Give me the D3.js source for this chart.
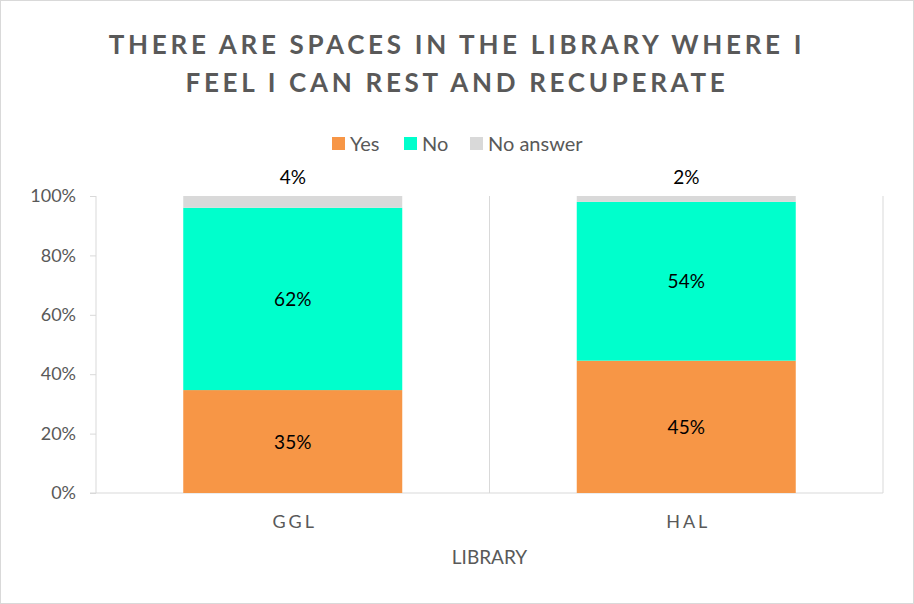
<!DOCTYPE html>
<html>
<head>
<meta charset="utf-8">
<script src="https://cdn.jsdelivr.net/npm/d3@7"></script>
<style>
  body { margin: 0; background: #fff; }
  text { font-family: Lato, "Open Sans", sans-serif; }
</style>
</head>
<body>
<svg width="914" height="604"></svg>
<script>
const categories = ['GGL', 'HAL'];
const seriesNames = ['Yes', 'No', 'No answer'];
const yesValues = [35, 45];
const noValues = [62, 54];
const noAnswerValues = [4, 2];
const yTicks = [0, 20, 40, 60, 80, 100];
const colors = ['#F79646', '#00FFCC', '#D9D9D9'];

const svg = d3.select('svg');
const width = +svg.attr('width');
const height = +svg.attr('height');

const margin = {top: 196, right: 31, bottom: 111, left: 96};
const innerWidth = width - margin.left - margin.right;
const innerHeight = height - margin.top - margin.bottom;

// outer frame
svg.append('rect')
  .attr('x', 0.5).attr('y', 0.5)
  .attr('width', width - 1).attr('height', height - 1)
  .attr('fill', '#fff').attr('stroke', '#d9d9d9');

// rows normalised to 100%
const rows = categories.map((c, i) => {
  const vals = [yesValues[i], noValues[i], noAnswerValues[i]];
  const total = d3.sum(vals);
  const row = {category: c, total};
  seriesNames.forEach((s, j) => { row[s] = vals[j]; row[s + '_pct'] = vals[j] / total * 100; });
  return row;
});

const stack = d3.stack().keys(seriesNames.map(s => s + '_pct'));
const stacked = stack(rows);

const xScale = d3.scaleBand()
  .domain(categories)
  .range([0, innerWidth])
  .paddingInner(0)
  .paddingOuter(0);

const barWidth = 219;

const yScale = d3.scaleLinear()
  .domain([0, 100])
  .range([innerHeight, 0]);

const g = svg.append('g')
  .attr('transform', `translate(${margin.left}, ${margin.top})`);

// category separators
const seps = [0].concat(categories.map(c => xScale(c) + xScale.bandwidth()));
g.selectAll('.sep').data(seps).enter().append('line')
  .attr('x1', d => d).attr('x2', d => d)
  .attr('y1', 0).attr('y2', innerHeight)
  .attr('stroke', '#d9d9d9').attr('stroke-width', 1);

// y axis
const yAxis = d3.axisLeft(yScale)
  .tickValues(yTicks)
  .tickFormat(d => d + '%')
  .tickSize(6)
  .tickPadding(14);

const yAxisG = g.append('g').call(yAxis);
yAxisG.select('.domain').remove();
yAxisG.selectAll('line').attr('stroke', '#d9d9d9');
yAxisG.selectAll('text')
  .attr('fill', '#595959')
  .style('font-size', '18px');

// baseline
g.append('line')
  .attr('x1', -6).attr('x2', innerWidth)
  .attr('y1', innerHeight).attr('y2', innerHeight)
  .attr('stroke', '#d9d9d9');

// bars
const layers = g.selectAll('.layer').data(stacked).enter().append('g')
  .attr('fill', (d, i) => colors[i]);

layers.selectAll('rect').data(d => d).enter().append('rect')
  .attr('x', d => xScale(d.data.category) + (xScale.bandwidth() - barWidth) / 2)
  .attr('width', barWidth)
  .attr('y', d => yScale(d[1]))
  .attr('height', d => yScale(d[0]) - yScale(d[1]));

// value labels
stacked.forEach((layer, i) => {
  const key = seriesNames[i];
  g.selectAll('.lbl' + i).data(layer).enter().append('text')
    .attr('x', d => xScale(d.data.category) + xScale.bandwidth() / 2)
    .attr('y', d => i === 2 ? yScale(100) - 12 : (yScale(d[0]) + yScale(d[1])) / 2 + 7)
    .attr('text-anchor', 'middle')
    .attr('fill', '#000')
    .style('font-size', '19px')
    .text(d => d.data[key] + '%');
});

// x labels
g.selectAll('.xlabel').data(categories).enter().append('text')
  .attr('x', d => xScale(d) + xScale.bandwidth() / 2 + 2)
  .attr('y', innerHeight + 35)
  .attr('text-anchor', 'middle')
  .attr('fill', '#595959')
  .style('font-size', '18px')
  .style('letter-spacing', '3px')
  .text(d => d);

g.append('text')
  .attr('x', innerWidth / 2)
  .attr('y', innerHeight + 71)
  .attr('text-anchor', 'middle')
  .attr('fill', '#595959')
  .style('font-size', '19px')
  .text('LIBRARY');

// title
const titleLines = ['THERE ARE SPACES IN THE LIBRARY WHERE I', 'FEEL I CAN REST AND RECUPERATE'];
svg.selectAll('.title').data(titleLines).enter().append('text')
  .attr('x', width / 2)
  .attr('y', (d, i) => 54 + i * 38)
  .attr('text-anchor', 'middle')
  .attr('fill', '#595959')
  .style('font-size', '26px')
  .style('font-weight', 'bold')
  .style('letter-spacing', '3.7px')
  .text(d => d);

// legend
const legendX = [332, 404, 470];
const legend = svg.selectAll('.legend').data(seriesNames).enter().append('g')
  .attr('transform', (d, i) => `translate(${legendX[i]}, 137)`);
legend.append('rect')
  .attr('width', 13).attr('height', 13)
  .attr('fill', (d, i) => colors[i]);
legend.append('text')
  .attr('x', 18).attr('y', 14)
  .attr('fill', '#595959')
  .style('font-size', '20px')
  .text(d => d);
</script>
</body>
</html>
